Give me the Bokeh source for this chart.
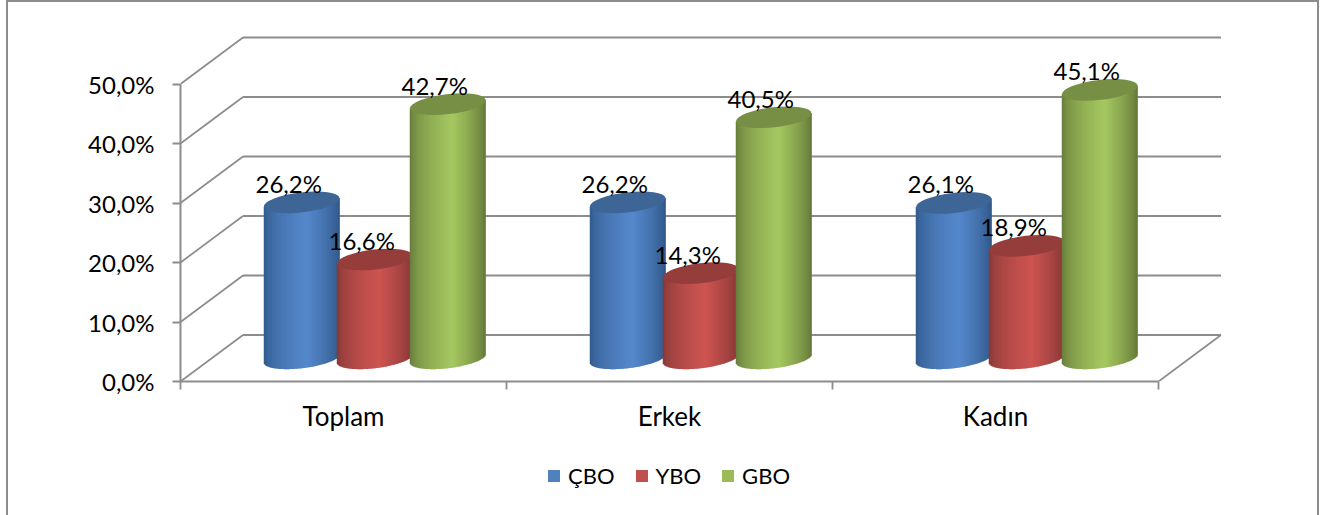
from bokeh.embed import file_html
from bokeh.resources import INLINE
from bokeh.plotting import figure
from bokeh.layouts import column
from bokeh.models import FixedTicker, Legend, LegendItem, Range1d
from bokeh.core.properties import value as fixed

# ---- data ----
categories = ["Toplam", "Erkek", "Kadın"]
series = ["ÇBO", "YBO", "GBO"]
cbo = [26.2, 26.2, 26.1]
ybo = [16.6, 14.3, 18.9]
gbo = [42.7, 40.5, 45.1]
y_ticks = [0, 10, 20, 30, 40, 50]
y_tick_labels = ["0,0%", "10,0%", "20,0%", "30,0%", "40,0%", "50,0%"]

# ---- styles ----
FONT = "Lato"
SIZE = "24px"
CAT_SIZE = "26px"
LEG_SIZE = "22px"
GRID = "#8c8c8c"
legend_colors = ["#4F81BD", "#C0504D", "#9BBB59"]
cap_colors = ["#3D6596", "#943D3A", "#768F45"]
edge_colors = [(0x2E, 0x55, 0x85), (0x7E, 0x35, 0x33), (0x60, 0x73, 0x36)]
mid_colors = [(0x55, 0x88, 0xCC), (0xCD, 0x54, 0x51), (0xA5, 0xC7, 0x60)]

# ---- geometry: figure pixels; the figure's corner sits at OX,OY of the window ----
OX, OY = 8, 2
W, H, H2 = 1309, 438, 75
FX0, FX1 = 180 - OX, 1230 - OX
FY0, FYT = 381 - OY, 30 - OY
PX_PER_CAT = 326.0
PX_PER_PCT = 5.95
DX, DY = 62.5, 46.5
HALF_W = 38.0
CAP_B = 10.0
TILT = 0.115
SPACING = 73.0

p = figure(width=W, height=H, output_backend="svg", toolbar_location=None,
           x_range=Range1d(0, (FX1 - FX0) / PX_PER_CAT),
           y_range=Range1d(0, (FY0 - FYT) / PX_PER_PCT),
           min_border_left=FX0, min_border_right=W - FX1,
           min_border_top=FYT, min_border_bottom=H - FY0,
           outline_line_color=None, background_fill_color="white",
           border_fill_color="white")
p.grid.visible = False

ddx = DX / PX_PER_CAT
ddy = DY / PX_PER_PCT
n_cat = len(categories)

p.segment(x0=[ddx] * len(y_ticks), x1=[n_cat + ddx] * len(y_ticks),
          y0=[v + ddy for v in y_ticks], y1=[v + ddy for v in y_ticks],
          line_color=GRID, line_width=2)
p.segment(x0=[0] * len(y_ticks), x1=[ddx] * len(y_ticks),
          y0=y_ticks, y1=[v + ddy for v in y_ticks],
          line_color=GRID, line_width=1.7)
p.segment(x0=[n_cat], x1=[n_cat + ddx], y0=[0], y1=[ddy],
          line_color=GRID, line_width=1.7)


def shade(t, edge, mid):
    peak = 0.56
    k = (t / peak) ** 0.5 if t < peak else ((1 - t) / (1 - peak)) ** 0.7
    return "#%02x%02x%02x" % tuple(int(round(e + (m - e) * k)) for e, m in zip(edge, mid))


values = [cbo, ybo, gbo]
for s, vals in enumerate(values):
    left, right, top, bottom, color = [], [], [], [], []
    cx, cy_top = [], []
    for c, v in enumerate(vals):
        xc = c + 0.5 + ddx / 2 + (s - 1) * SPACING / PX_PER_CAT
        yt = v + ddy / 2
        yb = ddy / 2
        cx.append(xc)
        cy_top.append(yt)
        N = int(2 * HALF_W)
        for i in range(N):
            u0 = -HALF_W + i * 2 * HALF_W / N
            um = u0 + HALF_W / N
            f = (1 - (um / HALF_W) ** 2) ** 0.5
            left.append(xc + u0 / PX_PER_CAT)
            right.append(xc + (u0 + 2 * HALF_W / N + (0.6 if i < N - 1 else 0)) / PX_PER_CAT)
            top.append(yt + TILT * um / PX_PER_PCT)
            bottom.append(yb + (TILT * um - CAP_B * f) / PX_PER_PCT)
            color.append(shade((i + 0.5) / N, edge_colors[s], mid_colors[s]))
    p.quad(left=left, right=right, top=top, bottom=bottom, fill_color=color, line_color=None)
    p.ellipse(x=cx, y=cy_top, width=2 * HALF_W, height=2 * CAP_B, angle=TILT,
              width_units="screen", height_units="screen",
              fill_color=cap_colors[s], line_color=None)

for s, vals in enumerate(values):
    xs = [c + 0.5 + ddx / 2 + (s - 1) * SPACING / PX_PER_CAT for c in range(n_cat)]
    ys = [v + ddy / 2 for v in vals]
    txt = [("%.1f%%" % v).replace(".", ",") for v in vals]
    p.text(x=xs, y=ys, text=txt, x_offset=-13, y_offset=-19,
           text_align="center", text_baseline="middle", text_color="black",
           text_font=fixed(FONT), text_font_size=SIZE)

ya = p.yaxis[0]
ya.ticker = FixedTicker(ticks=y_ticks)
ya.major_label_overrides = dict(zip(y_ticks, y_tick_labels))
ya.bounds = (0, 50)
ya.major_tick_in = 0
ya.major_tick_out = 8
ya.minor_tick_out = 0
ya.minor_tick_in = 0
ya.major_label_standoff = 18
xa = p.xaxis[0]
centres = [c + 0.5 for c in range(n_cat)]
xa.ticker = FixedTicker(ticks=centres, minor_ticks=list(range(n_cat + 1)))
xa.major_label_overrides = dict(zip(centres, categories))
xa.bounds = (0, n_cat)
xa.major_tick_in = 0
xa.major_tick_out = 0
xa.minor_tick_in = 0
xa.minor_tick_out = 8
xa.major_label_standoff = 10
for ax in (xa, ya):
    ax.axis_line_color = GRID
    ax.axis_line_width = 2
    ax.major_tick_line_color = GRID
    ax.major_tick_line_width = 1.8
    ax.minor_tick_line_color = GRID
    ax.minor_tick_line_width = 1.8
    ax.major_label_text_color = "black"
    ax.major_label_text_font = FONT
    ax.major_label_text_font_style = "normal"
ya.major_label_text_font_size = SIZE
xa.major_label_text_font_size = CAT_SIZE

# legend strip: a second figure directly below the plot, its frame aligned with the plot's
q = figure(width=W, height=H2, output_backend="svg", toolbar_location=None,
           x_range=Range1d(0, 1), y_range=Range1d(0, 1),
           min_border=0, outline_line_color=None,
           background_fill_color="white", border_fill_color="white")
q.axis.visible = False
q.grid.visible = False
items = []
for name, col in zip(series, legend_colors):
    # keys only: the rectangle lies outside the strip's ranges
    r = q.quad(left=[2], right=[3], top=[3], bottom=[2], fill_color=col, line_color=None)
    items.append(LegendItem(label=name, renderers=[r], index=0))
leg = Legend(items=items, orientation="horizontal", location=(546 - FX0 - OX, 26),
             glyph_width=15, glyph_height=15, label_standoff=7, spacing=19,
             padding=0, margin=0, border_line_color=None, background_fill_alpha=0,
             label_text_font=FONT, label_text_font_size=LEG_SIZE, label_text_color="black",
             label_height=15)
q.add_layout(leg, "center")

page = column(p, q, spacing=0, margin=(0, 0, 0, 6),
              styles={"border-left": f"2px solid {GRID}", "border-top": f"2px solid {GRID}",
                      "border-right": f"2px solid {GRID}"})

open("out.html", "w").write(file_html(page, INLINE))
